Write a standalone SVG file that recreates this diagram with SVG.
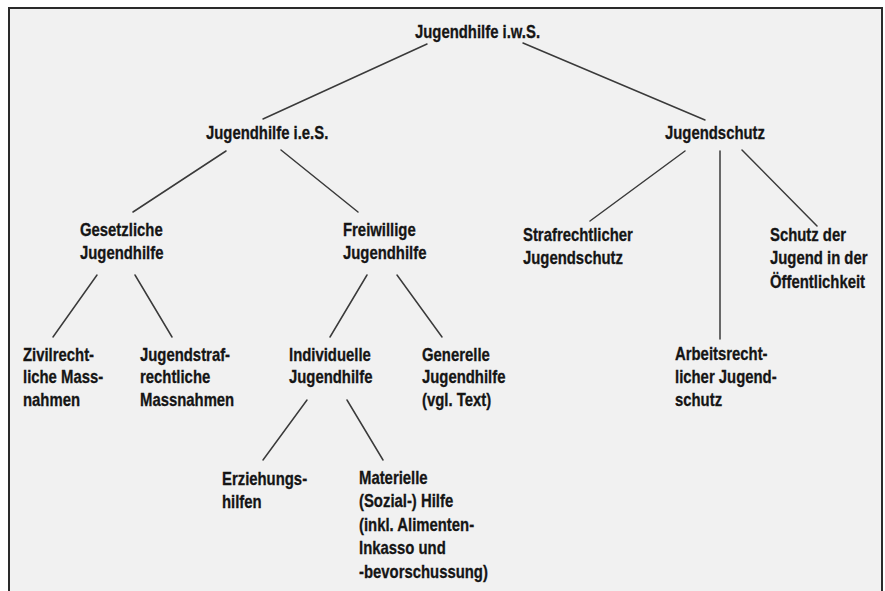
<svg xmlns="http://www.w3.org/2000/svg" width="885" height="591" viewBox="0 0 885 591">
<style>
.t{font-family:"Liberation Sans",Arial,sans-serif;font-weight:bold;font-size:17.5px;fill:#151515;stroke:#151515;stroke-width:0.3}
.c line{stroke:#3a3a3a;stroke-width:1.5;stroke-linecap:round}
</style>
<rect x="0" y="0" width="885" height="591" fill="#ffffff"/>
<rect x="9" y="8" width="873" height="600" fill="#f1f1f1" stroke="#2a2a2a" stroke-width="2"/>
<g class="c" id="connectors">
<line x1="427" y1="44" x2="263" y2="119"/>
<line x1="523" y1="43" x2="705" y2="120"/>
<line x1="226" y1="151" x2="133" y2="212"/>
<line x1="281" y1="150" x2="358" y2="212"/>
<line x1="685" y1="151" x2="590" y2="221"/>
<line x1="720" y1="151" x2="720" y2="339"/>
<line x1="742" y1="150" x2="817" y2="226"/>
<line x1="97" y1="275" x2="53" y2="337"/>
<line x1="135" y1="275" x2="172" y2="337"/>
<line x1="367" y1="275" x2="330" y2="337"/>
<line x1="397" y1="275" x2="442" y2="337"/>
<line x1="307" y1="400" x2="263" y2="460"/>
<line x1="347" y1="400" x2="383" y2="460"/>
</g>
<g id="n-iws"><text class="t" transform="translate(415,38) scale(0.85,1)">Jugendhilfe i.w.S.</text></g>
<g id="n-ies"><text class="t" transform="translate(206,139) scale(0.85,1)">Jugendhilfe i.e.S.</text></g>
<g id="n-js"><text class="t" transform="translate(665,139) scale(0.85,1)">Jugendschutz</text></g>
<g id="n-gesetz"><text class="t" transform="translate(80,236) scale(0.85,1)"><tspan x="0">Gesetzliche</tspan><tspan x="0" dy="23">Jugendhilfe</tspan></text></g>
<g id="n-frei"><text class="t" transform="translate(343,236) scale(0.85,1)"><tspan x="0">Freiwillige</tspan><tspan x="0" dy="23">Jugendhilfe</tspan></text></g>
<g id="n-straf"><text class="t" transform="translate(523,241) scale(0.85,1)"><tspan x="0">Strafrechtlicher</tspan><tspan x="0" dy="23">Jugendschutz</tspan></text></g>
<g id="n-oeff"><text class="t" transform="translate(770,241) scale(0.85,1)"><tspan x="0">Schutz der</tspan><tspan x="0" dy="23.5">Jugend in der</tspan><tspan x="0" dy="23.5">Öffentlichkeit</tspan></text></g>
<g id="n-zivil"><text class="t" transform="translate(23,361) scale(0.85,1)"><tspan x="0">Zivilrecht-</tspan><tspan x="0" dy="22.5">liche Mass-</tspan><tspan x="0" dy="22.5">nahmen</tspan></text></g>
<g id="n-jstraf"><text class="t" transform="translate(140,361) scale(0.85,1)"><tspan x="0">Jugendstraf-</tspan><tspan x="0" dy="22.5">rechtliche</tspan><tspan x="0" dy="22.5">Massnahmen</tspan></text></g>
<g id="n-indiv"><text class="t" transform="translate(289,361) scale(0.85,1)"><tspan x="0">Individuelle</tspan><tspan x="0" dy="22.5">Jugendhilfe</tspan></text></g>
<g id="n-gen"><text class="t" transform="translate(422,361) scale(0.85,1)"><tspan x="0">Generelle</tspan><tspan x="0" dy="22.5">Jugendhilfe</tspan><tspan x="0" dy="22.5">(vgl. Text)</tspan></text></g>
<g id="n-arbeit"><text class="t" transform="translate(675,360) scale(0.85,1)"><tspan x="0">Arbeitsrecht-</tspan><tspan x="0" dy="23">licher Jugend-</tspan><tspan x="0" dy="23">schutz</tspan></text></g>
<g id="n-erz"><text class="t" transform="translate(222,485) scale(0.85,1)"><tspan x="0">Erziehungs-</tspan><tspan x="0" dy="23">hilfen</tspan></text></g>
<g id="n-mat"><text class="t" transform="translate(359,484) scale(0.85,1)"><tspan x="0">Materielle</tspan><tspan x="0" dy="23.5">(Sozial-) Hilfe</tspan><tspan x="0" dy="23.5">(inkl. Alimenten-</tspan><tspan x="0" dy="23.5">Inkasso und</tspan><tspan x="0" dy="23.5">-bevorschussung)</tspan></text></g>
</svg>
